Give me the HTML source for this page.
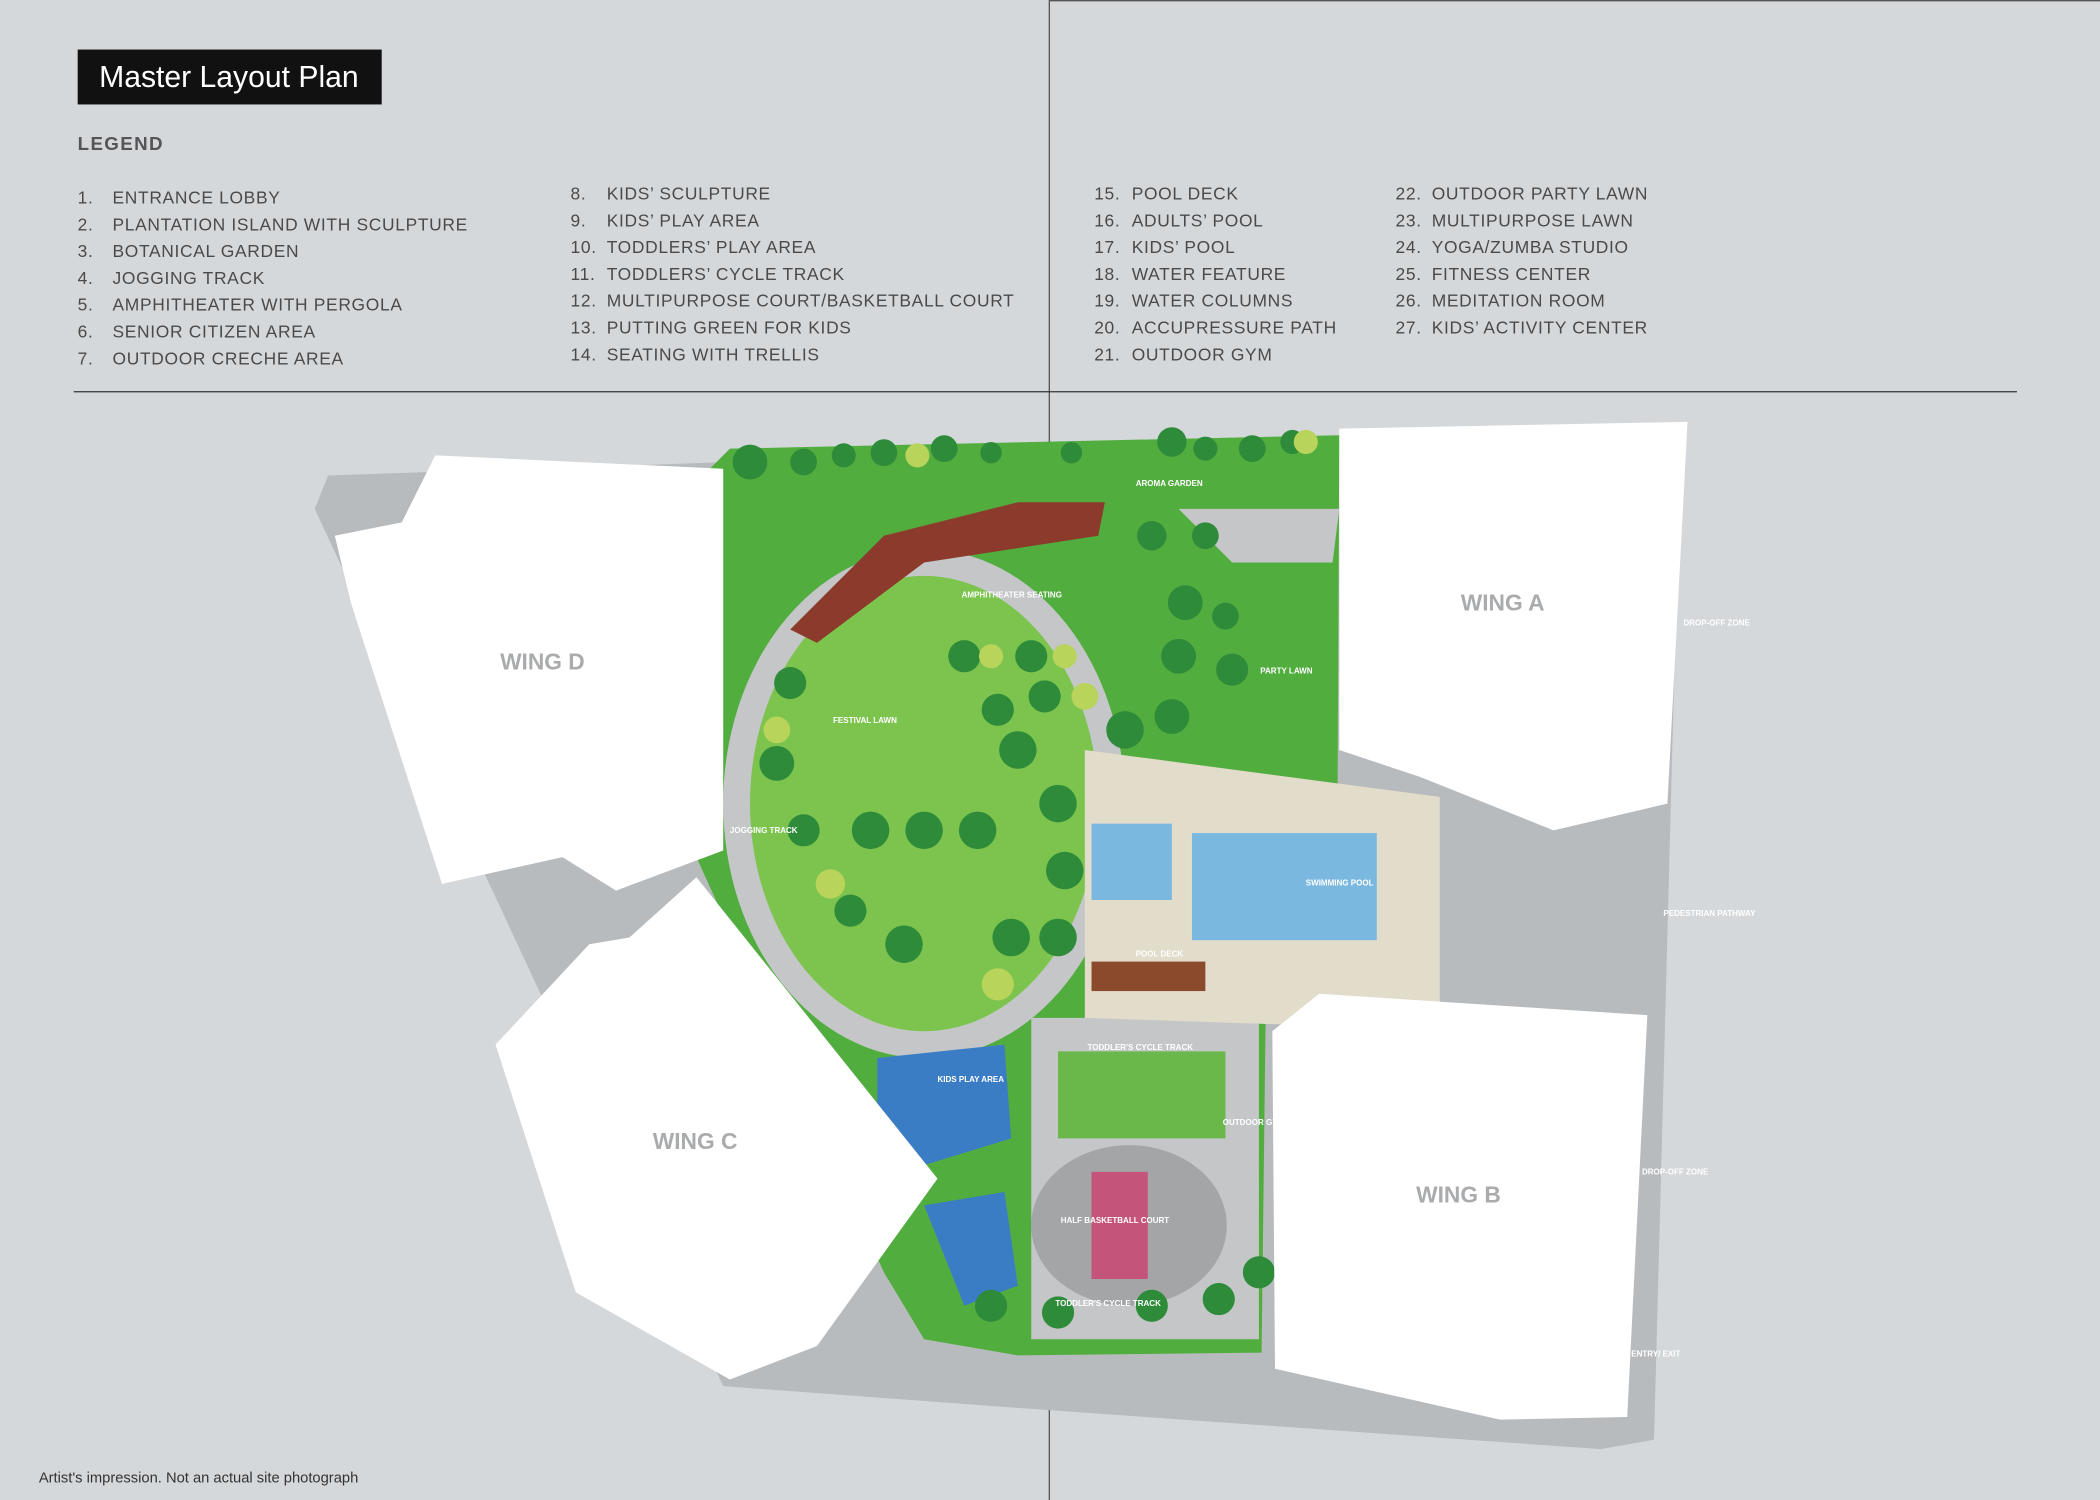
<!DOCTYPE html>
<html><head><meta charset="utf-8"><style>
html,body{margin:0;padding:0;background:#d5d8db;}
svg{display:block}
.lg{font-family:"Liberation Sans",sans-serif;font-size:13px;fill:#4a4a4a;letter-spacing:0.5px}
.sm{font-family:"Liberation Sans",sans-serif;font-size:6px;fill:#fff;font-weight:bold}
.wing{font-family:"Liberation Sans",sans-serif;font-size:17px;fill:#a9abad;font-weight:bold}
</style></head><body>
<svg width="2100" height="1500" viewBox="0 0 1568 1120" preserveAspectRatio="none" xmlns="http://www.w3.org/2000/svg">
<rect width="1568" height="1120" fill="#d5d8db"/>
<line x1="783.5" y1="0" x2="783.5" y2="1120" stroke="#555" stroke-width="1"/>
<line x1="783.5" y1="0.5" x2="1568" y2="0.5" stroke="#555" stroke-width="1"/>
<rect x="58" y="37" width="227" height="41" fill="#111"/>
<text x="74" y="65" font-family="Liberation Sans,sans-serif" font-size="22.5" fill="#fff">Master Layout Plan</text>
<text x="58" y="112" font-family="Liberation Sans,sans-serif" font-size="14" fill="#555" font-weight="bold" letter-spacing="1">LEGEND</text>
<g class="lg">
<text x="58" y="152">1.</text><text x="84" y="152">ENTRANCE LOBBY</text>
<text x="58" y="172">2.</text><text x="84" y="172">PLANTATION ISLAND WITH SCULPTURE</text>
<text x="58" y="192">3.</text><text x="84" y="192">BOTANICAL GARDEN</text>
<text x="58" y="212">4.</text><text x="84" y="212">JOGGING TRACK</text>
<text x="58" y="232">5.</text><text x="84" y="232">AMPHITHEATER WITH PERGOLA</text>
<text x="58" y="252">6.</text><text x="84" y="252">SENIOR CITIZEN AREA</text>
<text x="58" y="272">7.</text><text x="84" y="272">OUTDOOR CRECHE AREA</text>
<text x="426" y="149">8.</text><text x="453" y="149">KIDS’ SCULPTURE</text>
<text x="426" y="169">9.</text><text x="453" y="169">KIDS’ PLAY AREA</text>
<text x="426" y="189">10.</text><text x="453" y="189">TODDLERS’ PLAY AREA</text>
<text x="426" y="209">11.</text><text x="453" y="209">TODDLERS’ CYCLE TRACK</text>
<text x="426" y="229">12.</text><text x="453" y="229">MULTIPURPOSE COURT/BASKETBALL COURT</text>
<text x="426" y="249">13.</text><text x="453" y="249">PUTTING GREEN FOR KIDS</text>
<text x="426" y="269">14.</text><text x="453" y="269">SEATING WITH TRELLIS</text>
<text x="817" y="149">15.</text><text x="845" y="149">POOL DECK</text>
<text x="817" y="169">16.</text><text x="845" y="169">ADULTS’ POOL</text>
<text x="817" y="189">17.</text><text x="845" y="189">KIDS’ POOL</text>
<text x="817" y="209">18.</text><text x="845" y="209">WATER FEATURE</text>
<text x="817" y="229">19.</text><text x="845" y="229">WATER COLUMNS</text>
<text x="817" y="249">20.</text><text x="845" y="249">ACCUPRESSURE PATH</text>
<text x="817" y="269">21.</text><text x="845" y="269">OUTDOOR GYM</text>
<text x="1042" y="149">22.</text><text x="1069" y="149">OUTDOOR PARTY LAWN</text>
<text x="1042" y="169">23.</text><text x="1069" y="169">MULTIPURPOSE LAWN</text>
<text x="1042" y="189">24.</text><text x="1069" y="189">YOGA/ZUMBA STUDIO</text>
<text x="1042" y="209">25.</text><text x="1069" y="209">FITNESS CENTER</text>
<text x="1042" y="229">26.</text><text x="1069" y="229">MEDITATION ROOM</text>
<text x="1042" y="249">27.</text><text x="1069" y="249">KIDS’ ACTIVITY CENTER</text>
</g>
<line x1="55" y1="292.5" x2="1506" y2="292.5" stroke="#333" stroke-width="1"/>
<polygon points="245,355 545,345 1000,330 1255,320 1235,1075 1195,1082 770,1052 540,1035 235,380" fill="#b8bbbe"/>
<polygon points="520,360 545,335 1000,325 998,745 945,760 942,1010 760,1012 690,1000 660,950 520,640" fill="#52ad3f"/>
<ellipse cx="690" cy="600" rx="150" ry="190" fill="#c4c6c8"/>
<ellipse cx="690" cy="600" rx="130" ry="170" fill="#7cc44e"/>
<polygon points="880,380 1000,380 995,420 920,420" fill="#c4c6c8"/>
<polygon points="770,760 940,760 940,1000 770,1000" fill="#c4c6c8"/>
<ellipse cx="843" cy="915" rx="73" ry="60" fill="#a3a5a7"/>
<rect x="815" y="875" width="42" height="80" fill="#c4547a"/>
<polygon points="790,785 915,785 915,850 790,850" fill="#6bb84a"/>
<polygon points="655,790 750,780 755,850 690,870 655,830" fill="#3a7dc4"/>
<polygon points="690,900 750,890 760,960 720,975" fill="#3a7dc4"/>
<polygon points="810,560 1075,595 1075,760 960,765 810,760" fill="#e2dccb"/>
<rect x="815" y="615" width="60" height="57" fill="#7ab8e0"/>
<rect x="890" y="622" width="138" height="80" fill="#7ab8e0"/>
<rect x="815" y="718" width="85" height="22" fill="#8b4a2b"/>
<polygon points="590,470 660,400 760,375 825,375 820,400 690,420 610,480" fill="#8b3a2b"/>
<g fill="#2e8b3a">
<circle cx="560" cy="345" r="13"/><circle cx="600" cy="345" r="10"/><circle cx="660" cy="338" r="10"/><circle cx="705" cy="335" r="10"/><circle cx="875" cy="330" r="11"/><circle cx="935" cy="335" r="10"/><circle cx="965" cy="330" r="9"/><circle cx="630" cy="340" r="9"/><circle cx="740" cy="338" r="8"/><circle cx="800" cy="338" r="8"/><circle cx="900" cy="335" r="9"/>
<circle cx="590" cy="510" r="12"/><circle cx="580" cy="570" r="13"/><circle cx="600" cy="620" r="12"/><circle cx="635" cy="680" r="12"/><circle cx="675" cy="705" r="14"/><circle cx="720" cy="490" r="12"/><circle cx="770" cy="490" r="12"/><circle cx="760" cy="560" r="14"/><circle cx="790" cy="600" r="14"/><circle cx="795" cy="650" r="14"/><circle cx="790" cy="700" r="14"/><circle cx="755" cy="700" r="14"/>
<circle cx="885" cy="450" r="13"/><circle cx="880" cy="490" r="13"/><circle cx="920" cy="500" r="12"/><circle cx="940" cy="950" r="12"/><circle cx="740" cy="975" r="12"/><circle cx="790" cy="980" r="12"/><circle cx="860" cy="975" r="12"/><circle cx="910" cy="970" r="12"/>
<circle cx="650" cy="620" r="14"/><circle cx="690" cy="620" r="14"/><circle cx="730" cy="620" r="14"/><circle cx="840" cy="545" r="14"/><circle cx="875" cy="535" r="13"/>
<circle cx="745" cy="530" r="12"/><circle cx="780" cy="520" r="12"/><circle cx="860" cy="400" r="11"/><circle cx="900" cy="400" r="10"/><circle cx="915" cy="460" r="10"/>
</g>
<g fill="#b8d45a"><circle cx="620" cy="660" r="11"/><circle cx="745" cy="735" r="12"/><circle cx="810" cy="520" r="10"/><circle cx="580" cy="545" r="10"/><circle cx="975" cy="330" r="9"/><circle cx="685" cy="340" r="9"/><circle cx="740" cy="490" r="9"/><circle cx="795" cy="490" r="9"/></g>
<g fill="#ffffff">
<polygon points="250,400 300,390 325,340 540,350 540,635 460,665 420,640 330,660 262,450"/>
<polygon points="370,780 440,705 470,700 520,655 700,880 610,1005 545,1030 430,965"/>
<polygon points="1000,320 1260,315 1245,600 1160,620 1060,580 1000,560"/>
<polygon points="950,770 985,742 1230,758 1215,1058 1120,1060 952,1022"/>
</g>
<g class="wing">
<text x="405" y="500" text-anchor="middle">WING D</text>
<text x="1122" y="456" text-anchor="middle">WING A</text>
<text x="519" y="858" text-anchor="middle">WING C</text>
<text x="1089" y="898" text-anchor="middle">WING B</text>
</g>
<g class="sm">
<text x="1257" y="467">DROP-OFF ZONE</text>
<text x="1242" y="684">PEDESTRIAN PATHWAY</text>
<text x="1226" y="877">DROP-OFF ZONE</text>
<text x="1218" y="1013">ENTRY/ EXIT</text>
<text x="848" y="363">AROMA GARDEN</text>
<text x="718" y="446">AMPHITHEATER SEATING</text>
<text x="622" y="540">FESTIVAL LAWN</text>
<text x="941" y="503">PARTY LAWN</text>
<text x="545" y="622">JOGGING TRACK</text>
<text x="975" y="661">SWIMMING POOL</text>
<text x="848" y="714">POOL DECK</text>
<text x="812" y="784">TODDLER'S CYCLE TRACK</text>
<text x="700" y="808">KIDS PLAY AREA</text>
<text x="792" y="913">HALF BASKETBALL COURT</text>
<text x="788" y="975">TODDLER'S CYCLE TRACK</text>
<text x="913" y="840">OUTDOOR GYM</text>
</g>
<text x="29" y="1107" font-family="Liberation Sans,sans-serif" font-size="11" fill="#333">Artist's impression. Not an actual site photograph</text>
</svg>
</body></html>
